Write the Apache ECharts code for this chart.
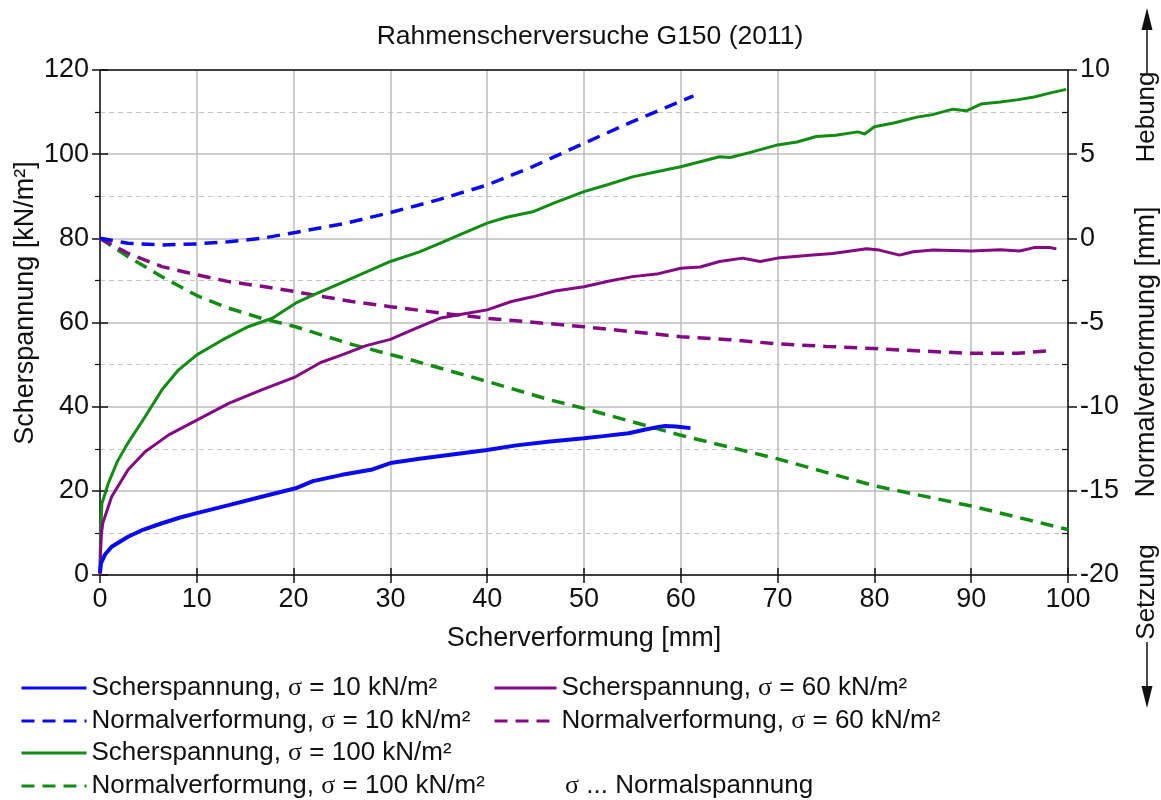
<!DOCTYPE html>
<html><head><meta charset="utf-8">
<script src="https://cdn.jsdelivr.net/npm/echarts@6/dist/echarts.min.js"></script>
<style>html,body{margin:0;padding:0;background:#fff}#c{width:1161px;height:800px}</style>
</head><body><div id="c"></div><script>
const FONT = '"Liberation Sans", Arial, sans-serif';
const SERIF = '"Liberation Serif", "Times New Roman", serif';

const titleText = 'Rahmenscherversuche G150 (2011)';
const xName = 'Scherverformung [mm]';
const yLeftName = 'Scherspannung [kN/m²]';
const yRightName = 'Normalverformung [mm]';
const upText = 'Hebung';
const downText = 'Setzung';
const noteText = '{s|σ} ... Normalspannung';

const seriesNames = [
  'Scherspannung, σ = 10 kN/m²',
  'Normalverformung, σ = 10 kN/m²',
  'Scherspannung, σ = 60 kN/m²',
  'Normalverformung, σ = 60 kN/m²',
  'Scherspannung, σ = 100 kN/m²',
  'Normalverformung, σ = 100 kN/m²'
];

// Scherspannung (left axis, kN/m²) vs Scherverformung (mm)
const shear10 = [[0,0.5],[0.1,2.8],[0.5,4.8],[1.2,6.7],[2.9,9.1],[4.5,10.8],[6.4,12.3],[8.2,13.6],[10,14.7],[13.3,16.6],[16.7,18.6],[20.2,20.6],[22,22.3],[25,23.8],[28,25],[30,26.6],[33,27.6],[36,28.5],[40,29.7],[43,30.8],[46.5,31.7],[50,32.5],[52,33],[54.6,33.7],[56,34.4],[57.7,35.2],[58.4,35.4],[59.5,35.3],[61,34.9]];
const shear60 = [[0,0],[0.05,5],[0.15,10],[0.3,12.4],[1.2,18.6],[2.9,25],[4.66,29.3],[7.1,33.3],[10,36.8],[13.3,40.8],[16.7,44],[20.2,47.1],[22.8,50.5],[25,52.3],[27.5,54.5],[30,56],[32.5,58.5],[35.1,61],[37.5,62],[40,63],[42.5,65],[44.7,66.1],[47,67.5],[50,68.5],[52.5,69.8],[55,70.9],[57.5,71.5],[60,72.9],[62,73.2],[64,74.5],[66.4,75.3],[68.2,74.5],[70,75.3],[73.3,76],[75.7,76.4],[79.2,77.5],[80.5,77.2],[82.6,76],[84,76.8],[86.1,77.2],[90,77],[93,77.3],[95,77],[96.5,77.8],[98.1,77.8],[98.8,77.5]];
const shear100 = [[0,0],[0.05,10],[0.2,17],[0.86,21.8],[1.8,27],[2.9,31.4],[4.66,37.6],[6.4,44],[8.1,48.7],[10,52.3],[12.6,55.8],[15.3,59],[17.8,61],[20.2,64.6],[22,66.5],[25,69.5],[28,72.5],[30,74.5],[33,76.8],[35.1,78.8],[37.5,81.2],[40,83.6],[42,85],[44.7,86.3],[47,88.5],[50,91.1],[52.5,92.8],[55,94.6],[57.5,95.8],[60,97],[62,98.2],[64,99.4],[65.1,99.2],[67,100.3],[70,102.2],[72,102.9],[74,104.2],[76,104.5],[78.3,105.3],[79,104.8],[80,106.5],[82,107.4],[84.4,108.8],[86,109.4],[88.1,110.7],[89.5,110.3],[91,111.9],[93,112.4],[94.7,112.9],[96.5,113.6],[98.1,114.5],[99.8,115.4]];

// Normalverformung (right axis, mm) vs Scherverformung (mm)
const normal10 = [[0,0],[2.9,-0.29],[6.4,-0.39],[10,-0.33],[13.3,-0.2],[16.7,0],[20.2,0.35],[25,0.85],[30,1.53],[35,2.3],[40,3.17],[44.7,4.26],[50,5.65],[55,6.93],[61.3,8.46]];
const normal60 = [[0,0],[2.9,-0.89],[6.4,-1.68],[10,-2.17],[13.3,-2.57],[16.7,-2.85],[20.2,-3.17],[22,-3.36],[26,-3.75],[30,-4.06],[35,-4.42],[40,-4.75],[45,-5.0],[50,-5.25],[55,-5.55],[60,-5.84],[65,-6.02],[70,-6.27],[75,-6.42],[80,-6.55],[85,-6.7],[90,-6.83],[94.8,-6.83],[98.1,-6.67]];
const normal100 = [[0,0],[2.9,-1.09],[6.4,-2.28],[10,-3.4],[13.3,-4.15],[16.7,-4.75],[20.2,-5.25],[26,-6.3],[32,-7.2],[40,-8.5],[46.5,-9.6],[50,-10.1],[55,-10.9],[60,-11.7],[65,-12.4],[70,-13.1],[75,-13.9],[80,-14.7],[85,-15.3],[90,-15.9],[95,-16.6],[100,-17.3]];

const BLUE = '#0a0af0', PURPLE = '#840a84', GREEN = '#128c12';
const DASH = [13, 8];

const chart = echarts.init(document.getElementById('c'), null, {renderer: 'canvas'});

function lineSeries(name, data, color, yIdx, dashed, width) {
  return {
    name, type: 'line', data, xAxisIndex: 0, yAxisIndex: yIdx,
    symbol: 'none', smooth: false, animation: false,
    lineStyle: {color, width, type: dashed ? DASH : 'solid'},
    itemStyle: {color},
    z: 3
  };
}

const LEG_FS = 26;
const legendText = {
  fontFamily: FONT, fontSize: LEG_FS, color: '#111',
  rich: {s: {fontFamily: SERIF, fontSize: LEG_FS, color: '#111'}}
};
function legendItem(name, left, centerY, w) {
  return {
    data: [name], left, top: centerY - 12, itemWidth: w, itemHeight: 2, itemGap: 0,
    padding: 0, formatter: n => n.replace('σ', '{s|σ}'), textStyle: legendText,
    itemStyle: {opacity: 0},
    lineStyle: {width: 3},
    selectedMode: false
  };
}

const TICK_FS = 27;
const NAME_FS = 27;
const axisLabelStyle = {fontFamily: FONT, fontSize: TICK_FS, color: '#111'};
const gridLine = {show: true, lineStyle: {color: '#bcbcbc', width: 1.5, type: 'solid'}};
const vText = (text, x, y, fs) => ({type: 'text', x, y, rotation: Math.PI / 2,
  style: {text, fontFamily: FONT, fontSize: fs, fill: '#111', align: 'center', verticalAlign: 'middle'}});

const option = {
  backgroundColor: '#fff',
  animation: false,
  title: {
    text: titleText, left: 585, top: 18, textAlign: 'center',
    textStyle: {fontFamily: FONT, fontSize: 26.5, fontWeight: 'normal', color: '#111'}
  },
  grid: {left: 100, right: 93, top: 70, bottom: 225, containLabel: false},
  legend: [
    legendItem(seriesNames[0], 20, 687, 65),
    legendItem(seriesNames[1], 20, 720, 65),
    legendItem(seriesNames[4], 20, 752, 65),
    legendItem(seriesNames[5], 20, 785, 65),
    legendItem(seriesNames[2], 493, 687, 62),
    legendItem(seriesNames[3], 493, 720, 62)
  ],
  xAxis: [
    {
      type: 'value', position: 'bottom', min: 0, max: 100, interval: 10,
      axisLine: {show: true, onZero: false, lineStyle: {color: '#111', width: 1.5}},
      axisTick: {show: true, length: 8, lineStyle: {color: '#111', width: 1.5}},
      axisLabel: Object.assign({margin: 11}, axisLabelStyle),
      splitLine: gridLine,
      name: xName, nameLocation: 'middle', nameGap: 50,
      nameTextStyle: {fontFamily: FONT, fontSize: NAME_FS, color: '#111'}
    },
    {
      type: 'value', position: 'top', min: 0, max: 100, interval: 10,
      axisLine: {show: true, onZero: false, lineStyle: {color: '#111', width: 1.5}},
      axisTick: {show: false}, axisLabel: {show: false}, splitLine: {show: false}
    },
    {
      type: 'value', position: 'bottom', min: 0, max: 100, interval: 10,
      axisLine: {show: false, onZero: false},
      axisTick: {show: true, inside: true, length: 7, lineStyle: {color: '#111', width: 1.5}},
      axisLabel: {show: false}, splitLine: {show: false}
    }
  ],
  yAxis: [
    {
      type: 'value', position: 'left', min: 0, max: 120, interval: 20,
      axisLine: {show: true, onZero: false, lineStyle: {color: '#111', width: 1.5}},
      axisTick: {show: true, length: 8, lineStyle: {color: '#111', width: 1.5}},
      minorTick: {show: true, splitNumber: 2, length: 5, lineStyle: {color: '#111', width: 1.2}},
      minorSplitLine: {show: true, lineStyle: {color: '#c4c4c4', width: 1.2, type: [5, 4]}},
      axisLabel: Object.assign({margin: 11}, axisLabelStyle),
      splitLine: gridLine
    },
    {
      type: 'value', position: 'right', min: -20, max: 10, interval: 5,
      axisLine: {show: true, onZero: false, lineStyle: {color: '#111', width: 1.5}},
      axisTick: {show: true, length: 9, lineStyle: {color: '#111', width: 1.5}},
      axisLabel: Object.assign({margin: 12}, axisLabelStyle),
      splitLine: {show: false}
    },
    {
      type: 'value', position: 'left', min: 0, max: 120, interval: 20,
      axisLine: {show: false, onZero: false},
      axisTick: {show: true, inside: true, length: 8, lineStyle: {color: '#111', width: 1.5}},
      axisLabel: {show: false}, splitLine: {show: false}
    },
    {
      type: 'value', position: 'right', min: -20, max: 10, interval: 5,
      axisLine: {show: false, onZero: false},
      axisTick: {show: false, inside: true},
      minorTick: {show: true, splitNumber: 2, length: 6, lineStyle: {color: '#111', width: 1.2}},
      axisLabel: {show: false}, splitLine: {show: false}
    }
  ],
  graphic: [
    vText(yLeftName, 26, 303, NAME_FS),
    vText(yRightName, 1147, 352, NAME_FS),
    vText(upText, 1147, 117, 26),
    vText(downText, 1147, 592, 26),
    {type: 'line', shape: {x1: 1147, y1: 75, x2: 1147, y2: 28}, style: {stroke: '#111', lineWidth: 1.5}},
    {type: 'polygon', shape: {points: [[1147, 8], [1141.5, 30], [1152.5, 30]]}, style: {fill: '#111'}},
    {type: 'line', shape: {x1: 1147, y1: 642, x2: 1147, y2: 688}, style: {stroke: '#111', lineWidth: 1.5}},
    {type: 'polygon', shape: {points: [[1147, 708], [1141.5, 686], [1152.5, 686]]}, style: {fill: '#111'}},
    {type: 'text', x: 565, y: 786,
      style: {text: noteText, fontFamily: FONT, fontSize: LEG_FS, fill: '#111', align: 'left', verticalAlign: 'middle',
        rich: {s: {fontFamily: SERIF, fontSize: LEG_FS, fill: '#111'}}}}
  ],
  series: [
    lineSeries(seriesNames[5], normal100, GREEN, 1, true, 3.5),
    lineSeries(seriesNames[3], normal60, PURPLE, 1, true, 3.5),
    lineSeries(seriesNames[1], normal10, BLUE, 1, true, 3.5),
    lineSeries(seriesNames[4], shear100, GREEN, 0, false, 3),
    lineSeries(seriesNames[2], shear60, PURPLE, 0, false, 3),
    lineSeries(seriesNames[0], shear10, BLUE, 0, false, 4)
  ]
};
chart.setOption(option);
</script></body></html>
